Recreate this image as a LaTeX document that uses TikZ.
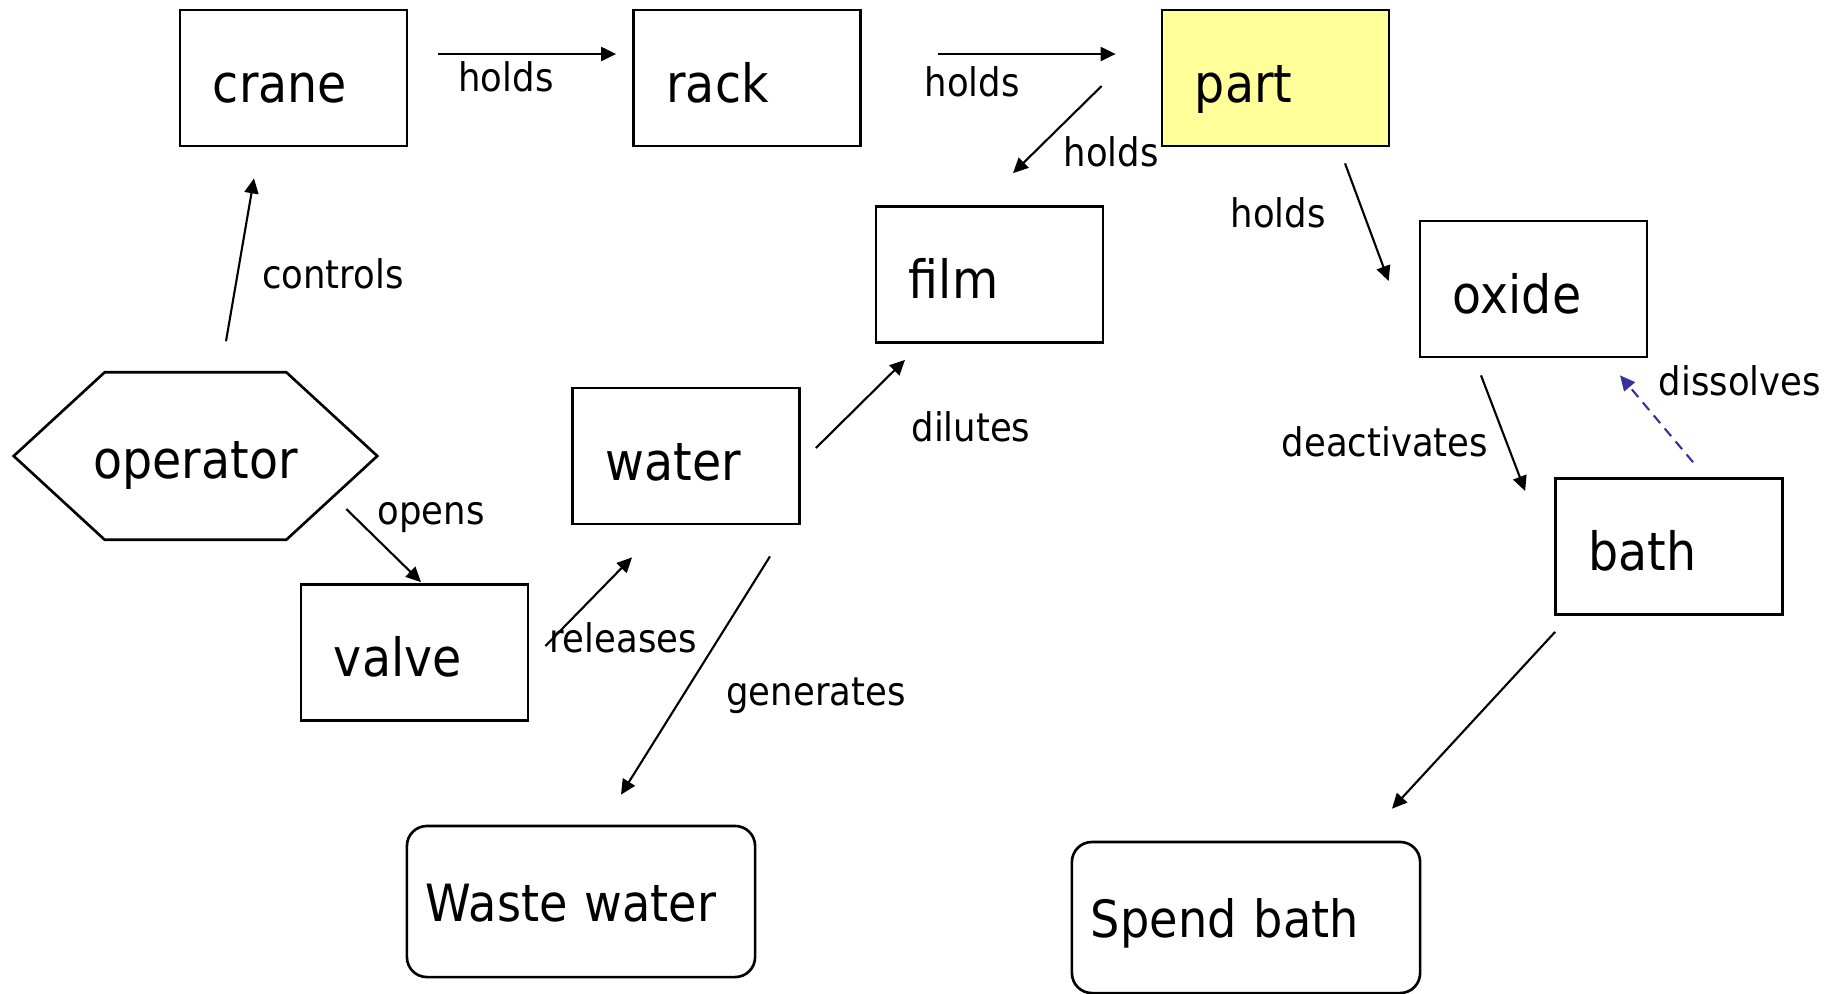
\documentclass[tikz,border=0pt]{standalone}
\usepackage{fontspec}
\setmainfont{DejaVu Sans}[FakeStretch=0.9]
\usetikzlibrary{arrows.meta,calc}
\definecolor{partyellow}{RGB}{255,255,153}
\definecolor{dissolveblue}{RGB}{51,51,153}
\tikzset{
  thing/.style={draw,line width=0.75pt,minimum height=1.36cm,text width=1.61cm,
    inner xsep=0.33cm,inner ysep=0pt,align=left,text height=0.63cm,text depth=0.15cm,
    font=\fontsize{15}{18}\selectfont},
  result/.style={thing,rounded corners=0.2cm,minimum height=1.51cm,text width=3.1cm,
    inner xsep=0.19cm,text height=0.56cm,text depth=0.16cm,font=\fontsize{14.6}{17}\selectfont},
  actor/.style={minimum width=3.62cm,minimum height=1.66cm,inner sep=0pt,
    text height=0.6cm,text depth=0.15cm,font=\fontsize{15}{18}\selectfont},
  rel/.style={-{Triangle[length=0.15cm,width=0.14cm]},line width=0.6pt},
  lbl/.style={anchor=base,inner sep=0pt,font=\fontsize{11.2}{13}\selectfont}
}
\begin{document}
\begin{tikzpicture}[x=0.01cm,y=0.01cm]
  \useasboundingbox (0,0) rectangle (1843,-993);
  % things
  \node[thing] (crane) at (293.5,-78) {crane};
  \node[thing] (rack) at (747,-78) {rack};
  \node[thing,fill=partyellow] (part) at (1275.5,-78) {part};
  \node[thing] (film) at (989.5,-274.5) {film};
  \node[thing] (oxide) at (1533.5,-289) {oxide};
  \node[actor] (operator) at (195.5,-456) {operator};
  \draw[line width=0.75pt] (operator.west) -- ($(operator.north west)+(91,0)$)
    -- ($(operator.north east)+(-91,0)$) -- (operator.east)
    -- ($(operator.south east)+(-91,0)$) -- ($(operator.south west)+(91,0)$) -- cycle;
  \node[thing] (water) at (686,-456) {water};
  \node[thing] (valve) at (414.5,-652.5) {valve};
  \node[thing] (bath) at (1669,-546.5) {bath};
  \node[result] (waste) at (581,-901.5) {Waste water};
  \node[result] (spend) at (1246,-917.5) {Spend bath};
  % relations
  \draw[rel] ($(crane.east)+(30,24)$) -- ($(rack.west)+(-16,24)$);
  \draw[rel] ($(rack.east)+(76,24)$) -- ($(part.west)+(-45,24)$);
  \draw[rel] ($(part.west)+(-59,-8)$) -- ($(film.north)+(23.5,32)$);
  \draw[rel] ($(part.south)+(69.5,-16)$) -- ($(oxide.west)+(-30,8)$);
  \draw[rel] ($(operator.north)+(30.5,31)$) -- ($(crane.south)+(-39.5,-31)$);
  \draw[rel] ($(operator.east)+(-31,-53)$) -- ($(valve.north)+(6.5,1)$);
  \draw[rel] ($(valve.east)+(16,6.5)$) -- ($(water.south)+(-54,-32)$);
  \draw[rel] ($(water.east)+(15,8)$) -- ($(film.south)+(-84.5,-16)$);
  \draw[rel] ($(water.south)+(84,-31)$) -- ($(waste.north)+(40,30)$);
  \draw[rel] ($(oxide.south)+(-52.5,-17)$) -- ($(bath.west)+(-29,55.5)$);
  \draw[rel,dissolveblue,dash pattern=on 0.1cm off 0.07cm] ($(bath.north)+(24,15)$) -- ($(oxide.south)+(86.5,-17)$);
  \draw[rel] ($(bath.south west)+(1,-16)$) -- ($(spend.north)+(146,32)$);
  % labels
  \node[lbl] (l-crane) at (506,-91) {holds};
  \node[lbl] (l-rack) at (972,-96) {holds};
  \node[lbl] (l-film) at (1111,-166) {holds};
  \node[lbl] (l-oxide) at (1278,-227) {holds};
  \node[lbl] (l-controls) at (333,-288) {controls};
  \node[lbl] (l-opens) at (431,-524) {opens};
  \node[lbl] (l-releases) at (623,-652) {releases};
  \node[lbl] (l-dilutes) at (971,-441) {dilutes};
  \node[lbl] (l-generates) at (816,-705) {generates};
  \node[lbl] (l-deactivates) at (1385,-456) {deactivates};
  \node[lbl] (l-dissolves) at (1740,-395) {dissolves};
\end{tikzpicture}
\end{document}
